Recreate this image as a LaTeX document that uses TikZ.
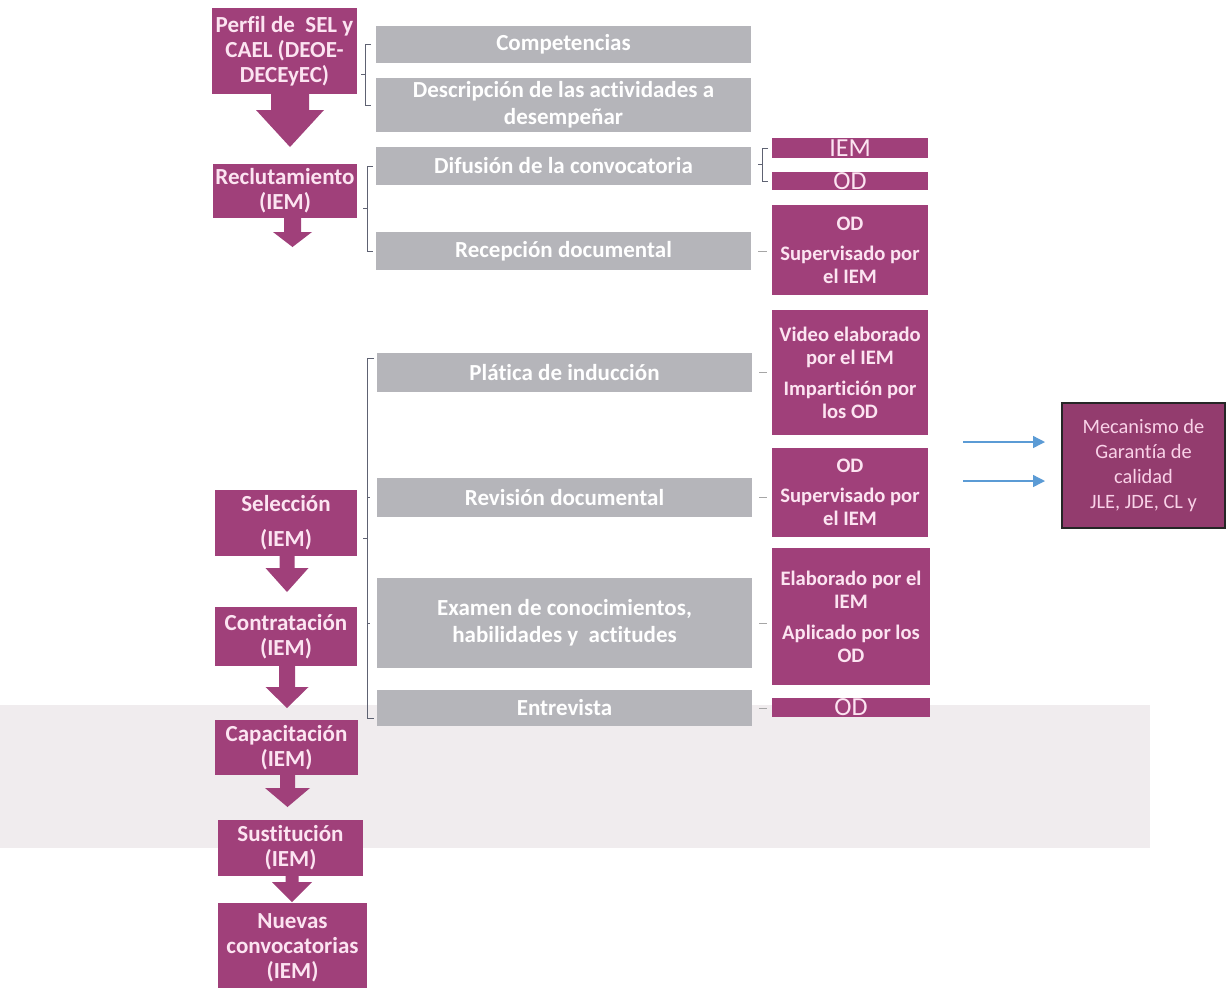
\documentclass[tikz,border=0pt]{standalone}
\usepackage{fontspec}
\setmainfont{Carlito}[Ligatures=NoCommon]
\usetikzlibrary{calc,arrows.meta}
\definecolor{mag}{HTML}{A0407A}
\definecolor{magtext}{HTML}{FCE4F1}
\definecolor{grayb}{HTML}{B5B5BA}
\definecolor{mecfill}{HTML}{933C6E}
\definecolor{mectext}{HTML}{F9D2E8}
\definecolor{brk}{HTML}{5E6272}
\definecolor{bluearr}{HTML}{5B9BD5}
\definecolor{band}{HTML}{F0ECEE}
\tikzset{
 box/.style={inner sep=0pt, outer sep=0pt, align=center},
 lbox/.style={box, fill=mag, text=magtext, font=\fontsize{11.5}{12.5}\selectfont\bfseries},
 gbox/.style={box, fill=grayb, text=white, font=\fontsize{11.5}{13.5}\selectfont\bfseries},
 rbox/.style={box, fill=mag, text=magtext, font=\fontsize{10.3}{11.5}\selectfont\bfseries},
 rbar/.style={box, fill=mag, text=magtext, font=\fontsize{13}{13}\selectfont},
 mecbox/.style={box, fill=mecfill, draw=black!85, line width=0.6pt, text=mectext, font=\fontsize{10.2}{12.5}\selectfont},
 brkline/.style={draw=brk, line width=0.45pt},
 dashlink/.style={draw=gray!70, line width=0.5pt, shorten <=3.5pt, shorten >=2.5pt},
 bluearrow/.style={draw=bluearr, line width=0.7pt, -{Triangle[length=6pt,width=6pt]}},
}
% \bx{style}{x1}{y1}{x2}{y2}{name} {text};
\newcommand\bx[6]{\node[#1, minimum width={(#4-#2)*0.5pt}, minimum height={(#5-#3)*0.5pt}] (#6) at ({(#2+#4)/2},{(#3+#5)/2})}
\newcommand\blockarr[6]{\fill[mag] ($(#1.south)+(#2-#3,-1)$) -- ($(#1.south)+(#2-#3,#5)$) -- ($(#1.south)+(#2-#4,#5)$) -- ($(#1.south)+(#2,#6)$) -- ($(#1.south)+(#2+#4,#5)$) -- ($(#1.south)+(#2+#3,#5)$) -- ($(#1.south)+(#2+#3,-1)$) -- cycle;}
\begin{document}
\begin{tikzpicture}[x=0.5pt,y=-0.5pt]
\useasboundingbox (0,0) rectangle (1228,987);
\clip (0,0) rectangle (1228,987);
\fill[white] (0,0) rectangle (1228,987);
\fill[band] (0,705) rectangle (1150,848);
% left column
\bx{lbox}{212}{8}{357}{94}{perfil} {Perfil de\ \ SEL y\\CAEL (DEOE-\\DECEyEC)};
\bx{lbox}{213}{164}{357}{218}{reclu} {Reclutamiento\\(IEM)};
\bx{lbox}{215}{490}{357}{556}{selec} {Selección\\[5pt](IEM)};
\bx{lbox}{215}{607}{357}{666}{contra} {Contratación\\(IEM)};
\bx{lbox}{215}{720}{358}{775}{capa} {Capacitación\\(IEM)};
\bx{lbox}{218}{820}{363}{876}{sust} {Sustitución\\(IEM)};
\bx{lbox}{218}{903}{367}{993}{nuevas} {Nuevas\\convocatorias\\(IEM)};
\blockarr{perfil}{5.5}{19}{34}{16}{53}
\blockarr{reclu}{7.5}{8.5}{19.5}{14}{29}
\blockarr{selec}{1}{7.5}{21.5}{12}{36}
\blockarr{contra}{1}{8}{21.5}{21}{42}
\blockarr{capa}{1}{7.5}{22.5}{13}{32}
\blockarr{sust}{1.5}{6.5}{20}{6}{26}
% gray column
\bx{gbox}{376}{26}{751}{63}{comp} {Competencias};
\bx{gbox}{376}{78}{751}{132}{desc} {Descripción de las actividades a\\desempeñar};
\bx{gbox}{376}{147}{751}{185}{difu} {Difusión de la convocatoria};
\bx{gbox}{376}{232}{751}{270}{recep} {Recepción documental};
\bx{gbox}{377}{353}{752}{392}{platica} {Plática de inducción};
\bx{gbox}{377}{478}{752}{517}{revision} {Revisión documental};
\bx{gbox}{377}{578}{752}{668}{examen} {Examen de conocimientos,\\habilidades y\ \ actitudes};
\bx{gbox}{377}{690}{752}{726}{entre} {Entrevista};
% right column
\bx{rbar}{772}{138}{928}{158}{iem1} {IEM};
\bx{rbar}{772}{172}{928}{190}{od1} {OD};
\bx{rbox}{772}{205}{928}{295}{rec1} {OD\\[3.5pt]Supervisado por\\el IEM};
\bx{rbox}{772}{310}{928}{435}{video} {Video elaborado\\por el IEM\\[4pt]Impartición por\\los OD};
\bx{rbox}{772}{448}{928}{537}{rev1} {OD\\[3.5pt]Supervisado por\\el IEM};
\bx{rbox}{772}{548}{930}{685}{elab} {Elaborado por el\\IEM\\[4pt]Aplicado por los\\OD};
\bx{rbar}{772}{698}{930}{717}{od2} {OD};
% quality box
\bx{mecbox}{1062}{403}{1225}{528}{mec} {Mecanismo de\\Garantía de\\calidad\\JLE, JDE, CL y};
% brackets
\draw[brkline] ($(comp.west)+(-5,0)$) -- ($(comp.west)+(-11,0)$) -- ($(desc.west)+(-11,0)$) -- ($(desc.west)+(-5,0)$);
\draw[brkline] ($(comp.west)!0.5!(desc.west)+(-11,0)$) -- ++(-4,0);
\draw[brkline] ($(difu.west)+(-3,0)$) -- ($(difu.west)+(-9,0)$) -- ($(recep.west)+(-9,0)$) -- ($(recep.west)+(-3,0)$);
\draw[brkline] ($(difu.west)!0.5!(recep.west)+(-9,0)$) -- ++(-4,0);
\draw[brkline] ($(platica.north west)+(-3,5)$) -- ($(platica.north west)+(-10,5)$) -- ($(entre.west)+(-10,10)$) -- ($(entre.west)+(-3,10)$);
\draw[brkline] ($(platica.north west)!0.5!(entre.west)+(-10,7.5)$) -- ++(-4,0);
\draw[brkline] ($(revision.west)+(-10,0)$) -- ++(3,0);
\draw[brkline] ($(examen.west)+(-10,0)$) -- ++(3,0);
\draw[brkline] ($(iem1.west)+(-4,0)$) -- ($(iem1.west)+(-10,0)$) -- ($(od1.west)+(-10,0)$) -- ($(od1.west)+(-4,0)$);
\draw[brkline] ($(iem1.west)!0.5!(od1.west)+(-10,0)$) -- ++(-4,0);
% short links
\draw[dashlink] (recep.east) -- (recep.east -| rec1.west);
\draw[dashlink] (platica.east) -- (platica.east -| video.west);
\draw[dashlink] (revision.east) -- (revision.east -| rev1.west);
\draw[dashlink] (examen.east) -- (examen.east -| elab.west);
\draw[dashlink] (entre.east) -- (entre.east -| od2.west);
% blue arrows
\coordinate (b1) at (963,442);
\coordinate (b2) at (963,481);
\draw[bluearrow, shorten >=8.5pt] (b1) -- (b1 -| mec.west);
\draw[bluearrow, shorten >=8.5pt] (b2) -- (b2 -| mec.west);
\end{tikzpicture}
\end{document}
